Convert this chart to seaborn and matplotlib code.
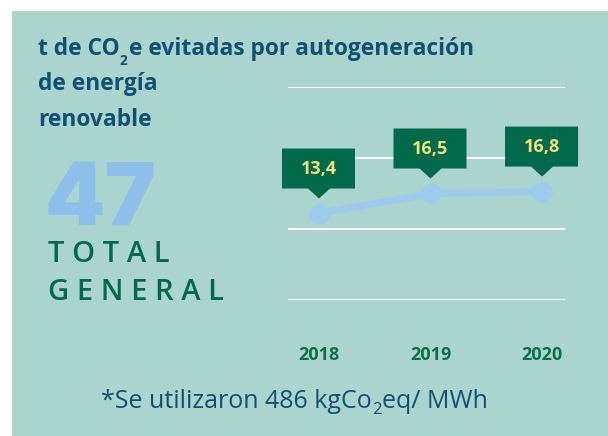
import matplotlib
matplotlib.use("Agg")
import matplotlib.pyplot as plt
import matplotlib.transforms as mtransforms
from matplotlib.patches import Polygon, Rectangle
import seaborn as sns
import pandas as pd

# Data
years = ["2018", "2019", "2020"]
tons = [13.4, 16.5, 16.8]
value_labels = ["13,4", "16,5", "16,8"]
total_value = "47"
grid_levels = [0, 11, 22, 33]

title_first = [("t de CO", 0), ("2", 1), ("e evitadas por autogeneración", 0)]
title_rest = ["de energía", "renovable"]
total_words = ["T O T A L", "G E N E R A L"]
footnote = [("*Se utilizaron 486 kgCo", 0), ("2", 1), ("eq/ MWh", 0)]

# Colours
BG = "#acd4cf"
NAVY = "#0d5272"
GREEN = "#006a4a"
YEAR_GREEN = "#0b7048"
LIGHT_BLUE = "#9ccbee"
BIG_BLUE = "#8cc0ea"
YELLOW = "#f4e27c"

FONT = "Open Sans"
sns.set_theme(style="white")
plt.rcParams["font.family"] = [FONT, "DejaVu Sans"]

W, H = 608, 436
fig = plt.figure(figsize=(W / 100, H / 100), dpi=100)
fig.patch.set_facecolor("white")
renderer = fig.canvas.get_renderer()


def fx(px):
    return px / W


def fy(py):
    return 1 - py / H


def rich_line(x, base, pieces, size, sub_size, sub_drop, **kw):
    """Write a line made of normal and subscript pieces, left to right."""
    for txt, is_sub in pieces:
        t = fig.text(fx(x), fy(base + (sub_drop if is_sub else 0)), txt,
                     fontsize=sub_size if is_sub else size,
                     va="baseline", ha="left", **kw)
        x += t.get_window_extent(renderer).width + (1 if is_sub else 0)


# Teal panel behind everything
panel = Rectangle((fx(12), 0), 1 - fx(12), fy(11), transform=fig.transFigure,
                  facecolor=BG, edgecolor="none", zorder=-10)
fig.add_artist(panel)

ax = fig.add_axes([fx(288), fy(300), fx(565) - fx(288), fy(87) - fy(300)])
ax.set_facecolor("none")
ax.set_zorder(1)

df = pd.DataFrame({"year": years, "tons": tons})
sns.pointplot(data=df, x="year", y="tons", ax=ax, color=LIGHT_BLUE,
              markers="o", markersize=11, linewidth=5, zorder=3)

ax.set_ylim(0, 33)
ax.set_xlim(-0.278, 2.206)
for lvl in grid_levels:
    ax.axhline(lvl, color="white", lw=1.4, zorder=1)
for s in ax.spines.values():
    s.set_visible(False)
ax.set_yticks([])
ax.set_xlabel("")
ax.set_ylabel("")
ax.tick_params(axis="x", length=0, pad=33)
for lab in ax.get_xticklabels():
    lab.set_fontsize(13)
    lab.set_fontweight("bold")
    lab.set_color(YEAR_GREEN)

# Value callouts above each point
for i, (v, txt) in enumerate(zip(tons, value_labels)):
    tr = mtransforms.ScaledTranslation(i, v, ax.transData)
    verts = [(-37, 25), (-11, 25), (0, 15), (11, 25), (36, 25), (36, 65), (-37, 65)]
    ax.add_patch(Polygon(verts, closed=True, transform=tr, facecolor=GREEN,
                         edgecolor="none", zorder=4, clip_on=False))
    ax.annotate(txt, (i, v), xytext=(0, 45), textcoords="offset pixels",
                ha="center", va="center", fontsize=13, fontweight="bold",
                color=YELLOW, zorder=5)

# Title block
rich_line(38, 55, title_first, 16.4, 10, 10, fontweight="bold", color=NAVY)
for line, b in zip(title_rest, [90, 126]):
    fig.text(fx(38), fy(b), line, fontsize=16.4, fontweight="bold", color=NAVY,
             va="baseline", ha="left")

# Big total
fig.text(fx(44), fy(225), total_value, fontsize=62, fontweight="black",
         color=BIG_BLUE, va="baseline", ha="left", family=["Inter", FONT])

# Letter-spaced caption
for word, b in zip(total_words, [262, 300]):
    fig.text(fx(48), fy(b), word, fontsize=21, fontweight="semibold",
             color=GREEN, va="baseline", ha="left")

# Footnote
rich_line(101, 408, footnote, 18, 12, 6, color=NAVY)

fig.savefig("out.png", dpi=100, facecolor="white")
